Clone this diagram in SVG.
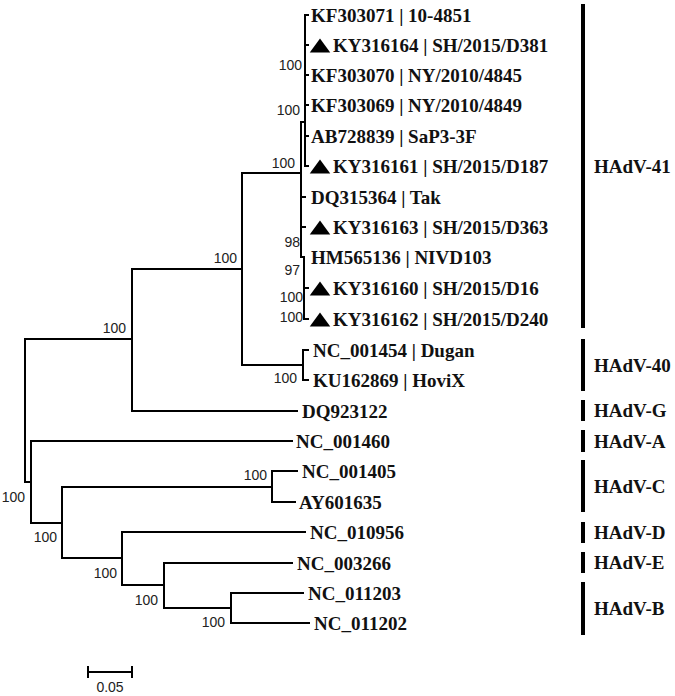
<svg xmlns="http://www.w3.org/2000/svg" width="675" height="696" viewBox="0 0 675 696">
<style>
.br{fill:none;stroke:#000;stroke-width:2;stroke-linecap:square}
.lf{font-family:"Liberation Serif","Times New Roman",serif;font-weight:bold;font-size:19px;fill:#111}
.bs{font-family:"Liberation Sans",Arial,sans-serif;font-size:14px;fill:#222;text-anchor:end}
.sc{font-family:"Liberation Sans",Arial,sans-serif;font-size:14px;fill:#222;text-anchor:middle}
.bar{fill:#000}
</style>
<defs>
<polygon id="tri" points="-10.25,7.5 10.25,7.5 0,-6.5" fill="#000"/>
</defs>
<rect width="675" height="696" fill="#fff"/>
<g id="connectors">
<path class="br" d="M25 339V482M25 339H132M25 482H31M31 441V523M31 441H292M31 523H62M62 487V558M62 487H272M272 471V502M272 471H297M272 502H295M62 558H122M122 532V585M122 532H305M122 585H164M164 563V608M164 563H292M164 608H231M231 593V623M231 593H303M231 623H309"/>
<path class="br" d="M132 269V411M132 411H297M132 269H242M242 173V365M242 365H303M303 350V380M303 350H308M303 380H308M242 173H301"/>
<path class="br" d="M301 122V257M301 122H305M305 15V166M305 15H308M305 45H308M305 75H308M305 105H308M305 136H308M305 166H308M301 197H305M301 227H305M301 257H304M304 257V319M304 288H308M304 319H308"/>
</g>
<g id="bootstrap">
<text class="bs" x="302" y="70">100</text>
<text class="bs" x="300" y="115">100</text>
<text class="bs" x="295" y="168">100</text>
<text class="bs" x="300" y="247">98</text>
<text class="bs" x="300" y="275">97</text>
<text class="bs" x="303" y="302">100</text>
<text class="bs" x="303" y="322">100</text>
<text class="bs" x="297" y="383">100</text>
<text class="bs" x="237" y="263">100</text>
<text class="bs" x="126" y="333">100</text>
<text class="bs" x="25" y="502">100</text>
<text class="bs" x="57" y="542">100</text>
<text class="bs" x="267" y="480">100</text>
<text class="bs" x="117" y="578">100</text>
<text class="bs" x="158" y="605">100</text>
<text class="bs" x="225" y="627">100</text>
</g>
<g id="leaf-KF303071"><text class="lf" x="311" y="21.5">KF303071 | 10-4851</text></g>
<g id="leaf-KY316164"><use href="#tri" x="320" y="45"/><text class="lf" x="333" y="51.5">KY316164 | SH/2015/D381</text></g>
<g id="leaf-KF303070"><text class="lf" x="311" y="81.5">KF303070 | NY/2010/4845</text></g>
<g id="leaf-KF303069"><text class="lf" x="311" y="111.5">KF303069 | NY/2010/4849</text></g>
<g id="leaf-AB728839"><text class="lf" x="311" y="142.5">AB728839 | SaP3-3F</text></g>
<g id="leaf-KY316161"><use href="#tri" x="320" y="166"/><text class="lf" x="333" y="172.5">KY316161 | SH/2015/D187</text></g>
<g id="leaf-DQ315364"><text class="lf" x="311" y="203.5">DQ315364 | Tak</text></g>
<g id="leaf-KY316163"><use href="#tri" x="320" y="227"/><text class="lf" x="333" y="233.5">KY316163 | SH/2015/D363</text></g>
<g id="leaf-HM565136"><text class="lf" x="311" y="263.5">HM565136 | NIVD103</text></g>
<g id="leaf-KY316160"><use href="#tri" x="320" y="288"/><text class="lf" x="333" y="294.5">KY316160 | SH/2015/D16</text></g>
<g id="leaf-KY316162"><use href="#tri" x="320" y="319"/><text class="lf" x="333" y="325.5">KY316162 | SH/2015/D240</text></g>
<g id="leaf-NC_001454"><text class="lf" x="313" y="356.5">NC_001454 | Dugan</text></g>
<g id="leaf-KU162869"><text class="lf" x="313" y="386.5">KU162869 | HoviX</text></g>
<g id="leaf-DQ923122"><text class="lf" x="302" y="417.5">DQ923122</text></g>
<g id="leaf-NC_001460"><text class="lf" x="296" y="447.5">NC_001460</text></g>
<g id="leaf-NC_001405"><text class="lf" x="302" y="477.5">NC_001405</text></g>
<g id="leaf-AY601635"><text class="lf" x="299" y="508.5">AY601635</text></g>
<g id="leaf-NC_010956"><text class="lf" x="310" y="538.5">NC_010956</text></g>
<g id="leaf-NC_003266"><text class="lf" x="297" y="569.5">NC_003266</text></g>
<g id="leaf-NC_011203"><text class="lf" x="308" y="599.5">NC_011203</text></g>
<g id="leaf-NC_011202"><text class="lf" x="314" y="629.5">NC_011202</text></g>
<g id="clade-HAdV-41"><rect class="bar" x="581" y="4" width="4" height="324"/><text class="lf" x="594" y="172.5">HAdV-41</text></g>
<g id="clade-HAdV-40"><rect class="bar" x="581" y="339" width="4" height="52"/><text class="lf" x="594" y="371.5">HAdV-40</text></g>
<g id="clade-HAdV-G"><rect class="bar" x="581" y="400" width="4" height="21"/><text class="lf" x="594" y="416.5">HAdV-G</text></g>
<g id="clade-HAdV-A"><rect class="bar" x="581" y="430" width="4" height="22"/><text class="lf" x="594" y="447.5">HAdV-A</text></g>
<g id="clade-HAdV-C"><rect class="bar" x="581" y="460" width="4" height="52"/><text class="lf" x="594" y="492.5">HAdV-C</text></g>
<g id="clade-HAdV-D"><rect class="bar" x="581" y="522" width="4" height="21"/><text class="lf" x="594" y="538.5">HAdV-D</text></g>
<g id="clade-HAdV-E"><rect class="bar" x="581" y="552" width="4" height="21"/><text class="lf" x="594" y="568.5">HAdV-E</text></g>
<g id="clade-HAdV-B"><rect class="bar" x="581" y="582" width="4" height="53"/><text class="lf" x="594" y="614.5">HAdV-B</text></g>
<g id="scale">
<path class="br" d="M88 672H132M88 667V677M132 667V677"/>
<text class="sc" x="110" y="692">0.05</text>
</g>
</svg>
